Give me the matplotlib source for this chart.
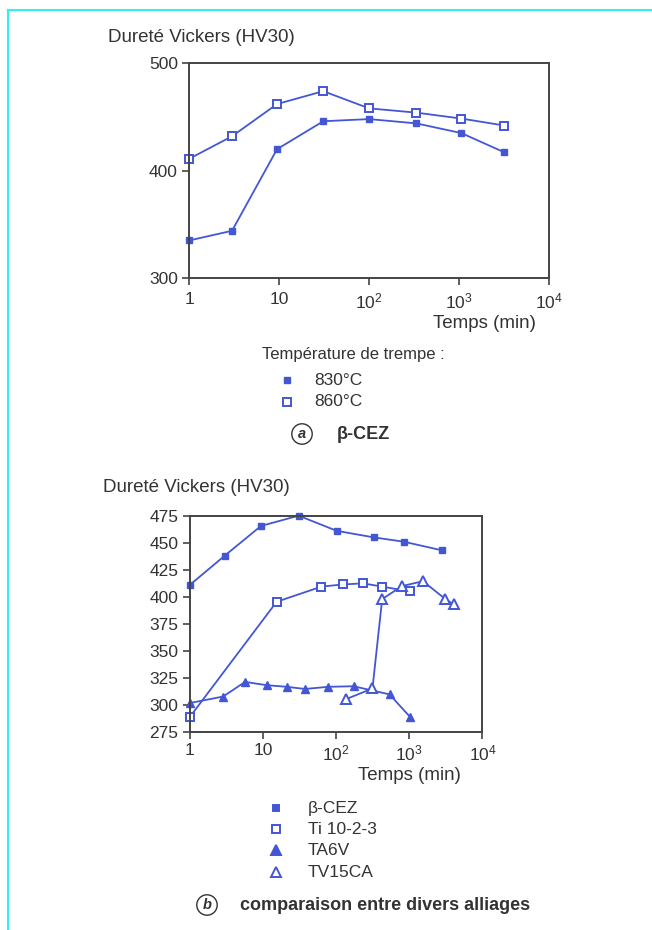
import numpy as np
import matplotlib
matplotlib.use('Agg')
import matplotlib.pyplot as plt
from matplotlib.lines import Line2D

plt.rcParams['font.family'] = ['Liberation Sans', 'DejaVu Sans']
plt.rcParams['mathtext.fontset'] = 'custom'
plt.rcParams['mathtext.rm'] = 'Liberation Sans'

BLUE = '#4357d4'
TXT = '#333333'

# (a) beta-CEZ, temperature de trempe
t_a = [1, 3, 9.5, 31, 100, 336, 1060, 3200]
hv_830 = [335, 344, 420, 446, 448, 444, 435, 417]
hv_860 = [411, 432, 462, 474, 458, 454, 448.5, 442]

# (b) comparaison entre divers alliages
t_cez = [1, 3.0, 9.4, 30.8, 102, 325, 836, 2800]
hv_cez = [411, 438, 465.5, 475, 461, 455, 451, 443]
t_ti = [1, 15.4, 63, 124, 234, 426, 1030]
hv_ti = [289, 395.5, 409.5, 411.5, 412.5, 409.5, 405]
t_ta6v = [1, 2.86, 5.7, 11.2, 21, 37.6, 78.5, 173, 537, 1030]
hv_ta6v = [302, 308, 321.5, 318.5, 317, 315, 317, 317.5, 310, 289]
t_tv = [136, 314, 426, 795, 1540, 3110, 4045]
hv_tv = [305.5, 315.5, 398, 410, 414.5, 398, 393]

xticks = [1, 10, 100, 1000, 10000]
xlabels = ['1', '10', r'$\mathregular{10^2}$', r'$\mathregular{10^3}$', r'$\mathregular{10^4}$']

FS = 12.5

fig = plt.figure(figsize=(6.52, 9.30), dpi=100)

# cadre cyan
fig.add_artist(Line2D([8 / 652, 1], [1 - 10 / 930, 1 - 10 / 930], color='#33f0f0', lw=1.5))
fig.add_artist(Line2D([8 / 652, 8 / 652], [0, 1 - 10 / 930], color='#33f0f0', lw=1.5))


def style_axes(ax, xpad):
    ax.set_xscale('log')
    ax.set_xlim(1, 10000)
    ax.set_xticks(xticks)
    ax.set_xticklabels(xlabels)
    ax.minorticks_off()
    for s in ax.spines.values():
        s.set_color('#444444')
        s.set_linewidth(1.4)
    ax.tick_params(direction='out', length=5, width=1.2, color='#444444',
                   labelsize=FS, labelcolor=TXT, pad=3)
    ax.tick_params(axis='x', pad=xpad)
    for ln in ax.lines:
        ln.set_clip_on(False)


ax1 = fig.add_axes([0.290, 0.701, 0.552, 0.231])
ax1.plot(t_a, hv_830, '-s', color=BLUE, lw=1.3, ms=4, mfc=BLUE, mec=BLUE)
ax1.plot(t_a, hv_860, '-s', color=BLUE, lw=1.3, ms=6, mfc='white', mec=BLUE, mew=1.4)
ax1.set_ylim(300, 500)
ax1.set_yticks([300, 400, 500])
style_axes(ax1, 5)

ax2 = fig.add_axes([0.291, 0.2126, 0.449, 0.2329])
ax2.plot(t_cez, hv_cez, '-s', color=BLUE, lw=1.3, ms=4, mfc=BLUE, mec=BLUE)
ax2.plot(t_ti, hv_ti, '-s', color=BLUE, lw=1.3, ms=6, mfc='white', mec=BLUE, mew=1.4)
ax2.plot(t_ta6v, hv_ta6v, '-^', color=BLUE, lw=1.3, ms=6, mfc=BLUE, mec=BLUE)
ax2.plot(t_tv, hv_tv, '-^', color=BLUE, lw=1.3, ms=7.5, mfc='white', mec=BLUE, mew=1.4)
ax2.set_ylim(275, 475)
ax2.set_yticks(np.arange(275, 476, 25))
style_axes(ax2, 3)


def px(x, y):
    return x / 652, 1 - y / 930


# textes
fig.text(*px(108, 38), 'Dureté Vickers (HV30)', fontsize=13.5, color=TXT, va='center')
fig.text(*px(536, 323), 'Temps (min)', fontsize=13.5, color=TXT, va='center', ha='right')
fig.text(*px(262, 354), 'Température de trempe :', fontsize=12, color=TXT, va='center')
fig.text(*px(314, 380), '830°C', fontsize=FS, color=TXT, va='center')
fig.text(*px(314, 402), '860°C', fontsize=FS, color=TXT, va='center')
fig.add_artist(Line2D([287 / 652], [1 - 380 / 930], marker='s', ms=4, color=BLUE, ls='none'))
fig.add_artist(Line2D([287 / 652], [1 - 402 / 930], marker='s', ms=5.5, mfc='white', mec=BLUE,
                      mew=1.4, ls='none'))
fig.text(*px(302, 434), 'a', fontsize=10.5, color=TXT, va='center', ha='center', style='italic',
         fontweight='bold', bbox=dict(boxstyle='circle,pad=0.22', fc='white', ec=TXT, lw=1.0))
fig.text(*px(337, 434), 'β-CEZ', fontsize=13, color=TXT, va='center', fontweight='bold')

fig.text(*px(103, 487), 'Dureté Vickers (HV30)', fontsize=13.5, color=TXT, va='center')
fig.text(*px(461, 775), 'Temps (min)', fontsize=13.5, color=TXT, va='center', ha='right')
legend_b = ['β-CEZ', 'Ti 10-2-3', 'TA6V', 'TV15CA']
ys = [808, 829, 850, 872]
marks = [('s', BLUE, 4), ('s', 'white', 5.5), ('^', BLUE, 6.5), ('^', 'white', 7)]
for lab, y, (m, fc, s) in zip(legend_b, ys, marks):
    fig.add_artist(Line2D([276 / 652], [1 - y / 930], marker=m, ms=s, mfc=fc, mec=BLUE,
                          mew=1.4, ls='none'))
    fig.text(*px(308, y), lab, fontsize=FS, color=TXT, va='center')
fig.text(*px(207, 905), 'b', fontsize=10.5, color=TXT, va='center', ha='center', style='italic',
         fontweight='bold', bbox=dict(boxstyle='circle,pad=0.22', fc='white', ec=TXT, lw=1.0))
fig.text(*px(240, 905), 'comparaison entre divers alliages', fontsize=13, color=TXT,
         va='center', fontweight='bold')

fig.savefig('out.png', dpi=100, facecolor='white')
